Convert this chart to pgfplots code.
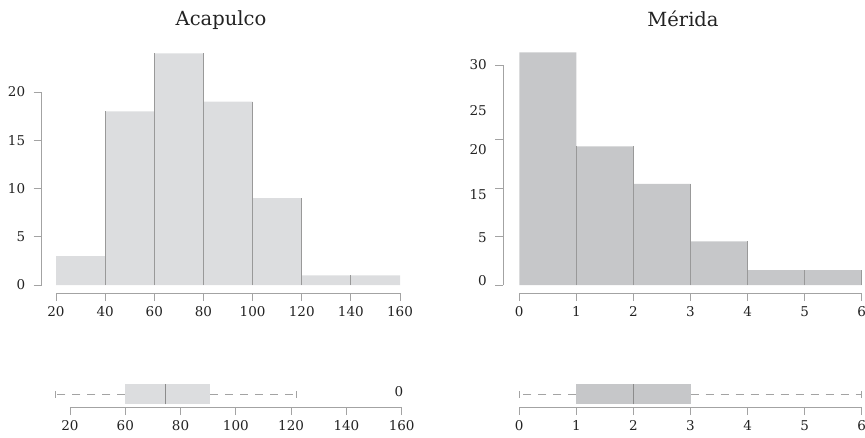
\documentclass[border=0pt]{standalone}
\usepackage{fontspec}
\setmainfont{DejaVu Serif}
\usepackage{pgfplots}
\pgfplotsset{compat=1.18}
\usepgfplotslibrary{statistics}

\definecolor{acafill}{HTML}{DCDDDF}
\definecolor{merfill}{HTML}{C6C7C9}
\definecolor{axgray}{HTML}{A3A3A3}
\definecolor{edgegray}{HTML}{999999}
\definecolor{medgray}{HTML}{8C8C8C}
\definecolor{txt}{HTML}{222222}

\newcommand{\ticksize}{\fontsize{13.5}{15}\selectfont}
\newcommand{\titlesize}{\fontsize{19.5}{22}\selectfont}

\pgfplotsset{
  myax/.style={
    scale only axis, axis lines*=left, axis line style={draw=none},
    tick align=outside, major tick length=8pt,
    tick style={axgray, line width=0.9pt},
    tick label style={font=\ticksize, text=txt},
    /pgf/number format/assume math mode=true,
    xticklabel style={yshift=-2pt}, yticklabel style={xshift=-5pt},
    clip=false, anchor=south west,
  },
  boxplot/draw/lower whisker/.code={%
    \draw[axgray, line width=0.9pt, dash pattern=on 8pt off 7pt]
      (boxplot cs:\pgfplotsboxplotvalue{lower quartile}) -- (boxplot cs:\pgfplotsboxplotvalue{lower whisker});
    \draw[axgray, line width=0.9pt]
      (boxplot whisker cs:\pgfplotsboxplotvalue{lower whisker},0) -- (boxplot whisker cs:\pgfplotsboxplotvalue{lower whisker},1);
  },
  boxplot/draw/upper whisker/.code={%
    \draw[axgray, line width=0.9pt, dash pattern=on 8pt off 7pt]
      (boxplot cs:\pgfplotsboxplotvalue{upper quartile}) -- (boxplot cs:\pgfplotsboxplotvalue{upper whisker});
    \draw[axgray, line width=0.9pt]
      (boxplot whisker cs:\pgfplotsboxplotvalue{upper whisker},0) -- (boxplot whisker cs:\pgfplotsboxplotvalue{upper whisker},1);
  },
}

\begin{document}
\begin{tikzpicture}
\useasboundingbox (0,0) rectangle (865pt,-437pt);

% ---------------- Acapulco histogram
\begin{axis}[myax, at={(41.7pt,-293pt)}, width=358.3pt, height=239.6pt,
  xmin=14.18, xmax=160, ymin=-0.829, ymax=24,
  xtick={20,40,...,160}, ytick={0,5,10,15,20}]
\addplot[ybar interval, fill=acafill, draw=none] coordinates {
  (20,3) (40,18) (60,24) (80,19) (100,9) (120,1) (140,1) (160,1)};
\addplot[edgegray, line width=0.9pt, unbounded coords=jump] coordinates {
  (40,0) (40,18) (40,nan)
  (60,0) (60,24) (60,nan)
  (80,0) (80,24) (80,nan)
  (100,0) (100,19) (100,nan)
  (120,0) (120,9) (120,nan)
  (140,0) (140,1)};
\draw[axgray, line width=0.9pt] (axis cs:20,-0.829) -- (axis cs:160,-0.829);
\draw[axgray, line width=0.9pt] (axis cs:14.18,0) -- (axis cs:14.18,20);
\end{axis}

% ---------------- Merida histogram
\begin{axis}[myax, at={(503.3pt,-293pt)}, width=358.4pt, height=240.6pt,
  xmin=-0.28, xmax=6, ymin=-0.829, ymax=24.11,
  xtick={0,1,...,6}, ytick={0,5,10,15.1,22.8}, yticklabels={{},{},{},{},{}},
  extra y ticks={0.45,4.87,9.33,13.99,18.13,22.8},
  extra y tick labels={0,5,15,20,25,30},
  extra y tick style={tick style={draw=none}}]
\addplot[ybar interval, fill=merfill, draw=none] coordinates {
  (0,24.11) (1,14.37) (2,10.47) (3,4.53) (4,1.55) (5,1.55) (6,1.55)};
\addplot[edgegray, line width=0.9pt, unbounded coords=jump] coordinates {
  (1,0) (1,14.37) (1,nan)
  (2,0) (2,14.37) (2,nan)
  (3,0) (3,10.47) (3,nan)
  (4,0) (4,4.53) (4,nan)
  (5,0) (5,1.55) (5,nan)
  (6,0) (6,1.55)};
\draw[axgray, line width=0.9pt] (axis cs:0,-0.829) -- (axis cs:6,-0.829);
\draw[axgray, line width=0.9pt] (axis cs:-0.28,0) -- (axis cs:-0.28,22.8);
\end{axis}

% ---------------- Acapulco boxplot
\begin{axis}[myax, at={(42.36pt,-407pt)}, width=359.3pt, height=27pt,
  xmin=30, xmax=160, ymin=-13, ymax=14,
  xtick={40,60,...,160}, xticklabels={20,60,80,100,120,140,160}, ytick=\empty]
\addplot[boxplot prepared={draw direction=x, draw position=0,
    lower whisker=34.9, lower quartile=60, median=74.4,
    upper quartile=90.65, upper whisker=122, box extend=20.7, whisker extend=7},
  boxplot/every box/.style={draw=none, fill=acafill},
  boxplot/every median/.style={draw=medgray, line width=1pt}]
  coordinates {};
\draw[axgray, line width=0.9pt] (axis cs:40,-13) -- (axis cs:160,-13);
\node[font=\ticksize, text=txt] at (axis cs:159,2) {0};
\end{axis}

% ---------------- Merida boxplot
\begin{axis}[myax, at={(503.3pt,-407pt)}, width=358.4pt, height=27pt,
  xmin=-0.28, xmax=6, ymin=-13, ymax=14,
  xtick={0,1,...,6}, ytick=\empty]
\addplot[boxplot prepared={draw direction=x, draw position=0,
    lower whisker=0, lower quartile=1, median=2,
    upper quartile=3, upper whisker=6, box extend=20.7, whisker extend=7},
  boxplot/every box/.style={draw=none, fill=merfill},
  boxplot/every median/.style={draw=medgray, line width=1pt}]
  coordinates {};
\draw[axgray, line width=0.9pt] (axis cs:0,-13) -- (axis cs:6,-13);
\end{axis}

\node[font=\titlesize, text=txt, anchor=base] at (221pt,-25pt) {Acapulco};
\node[font=\titlesize, text=txt, anchor=base] at (683pt,-26pt) {Mérida};
\end{tikzpicture}
\end{document}
